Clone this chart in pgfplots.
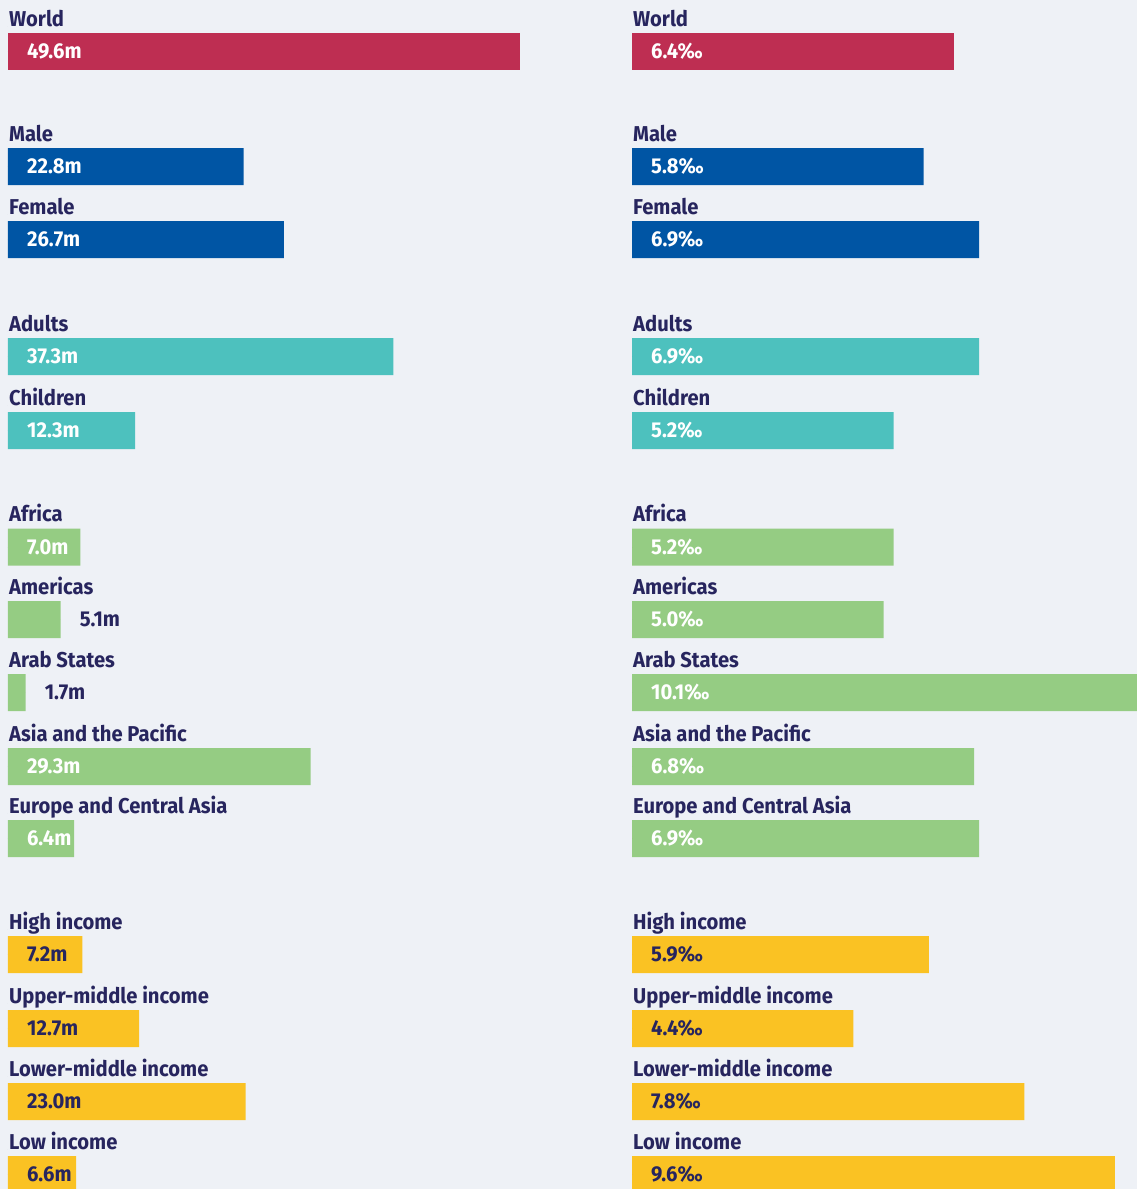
\documentclass[border=0pt]{standalone}
\usepackage{fontspec}
\setmainfont{Fira Sans}[FakeStretch=0.94]
\usepackage{pgfplots}
\usepackage{pgfplotstable}
\pgfplotsset{compat=1.18}

\definecolor{bg}{HTML}{EEF1F6}
\definecolor{navy}{HTML}{27255E}
\definecolor{crim}{HTML}{BE2E52}
\definecolor{blu}{HTML}{0055A4}
\definecolor{tealc}{HTML}{4DC1BE}
\definecolor{grn}{HTML}{95CC83}
\definecolor{yel}{HTML}{FAC223}

% y = bar centre (px from top); m = millions, r = per mille
% mx/rx = where the value label starts, mw/rw = 1 for white label text
\pgfplotstableread{
y name m mx mt mw r rx rt rw
51.5 World 49.6 0 49.6m 1 6.4 0 6.4‰ 1
}\world
\pgfplotstableread{
y name m mx mt mw r rx rt rw
166.5 Male 22.8 0 22.8m 1 5.8 0 5.8‰ 1
239.5 Female 26.7 0 26.7m 1 6.9 0 6.9‰ 1
}\sex
\pgfplotstableread{
y name m mx mt mw r rx rt rw
356.5 Adults 37.3 0 37.3m 1 6.9 0 6.9‰ 1
430.5 Children 12.3 0 12.3m 1 5.2 0 5.2‰ 1
}\age
\pgfplotstableread{
y name m mx mt mw r rx rt rw
547 Africa 7.0 0 7.0m 1 5.2 0 5.2‰ 1
619.5 Americas 5.1 5.1 5.1m 0 5.0 0 5.0‰ 1
692.5 {Arab States} 1.7 1.7 1.7m 0 10.1 0 10.1‰ 1
766.5 {Asia and the Pacific} 29.3 0 29.3m 1 6.8 0 6.8‰ 1
838.5 {Europe and Central Asia} 6.4 0 6.4m 1 6.9 0 6.9‰ 1
}\region
\pgfplotstableread{
y name m mx mt mw r rx rt rw
954.5 {High income} 7.2 0 7.2m 0 5.9 0 5.9‰ 0
1028.5 {Upper-middle income} 12.7 0 12.7m 0 4.4 0 4.4‰ 0
1101.5 {Lower-middle income} 23.0 0 23.0m 0 7.8 0 7.8‰ 0
1174.5 {Low income} 6.6 0 6.6m 0 9.6 0 9.6‰ 0
}\income

\pgfplotsset{
  lab/.style={only marks, mark=*, mark size=0pt,
    mark options={draw=none, fill=none},
    nodes near coords, point meta=explicit symbolic,
    nodes near coords style={font=\fontsize{21.5}{24}\selectfont\bfseries,
      inner sep=0pt}},
  panel/.style={anchor=north west, scale only axis, y=1pt, y dir=reverse,
    ymin=0, ymax=1189, hide axis, clip=true},
}

% #1 table, #2 fill, #3 column prefix (m or r)
\newcommand\grp[3]{%
  \addplot[xbar, bar shift=0pt, bar width=37, fill=#2, draw=none]
    table[x=#3, y=y] {#1};
  \addplot[lab, nodes near coords style={anchor=base west, xshift=1pt, text=navy}]
    table[x expr=0, y expr=\thisrow{y}-25.5, meta=name] {#1};
  \addplot[lab, restrict expr to domain={\thisrow{#3w}}{0.5:1.5},
    nodes near coords style={anchor=west, xshift=19pt, text=white}]
    table[x=#3x, y=y, meta=#3t] {#1};
  \addplot[lab, restrict expr to domain={\thisrow{#3w}}{-0.5:0.5},
    nodes near coords style={anchor=west, xshift=19pt, text=navy}]
    table[x=#3x, y=y, meta=#3t] {#1};
}

\begin{document}
\begin{tikzpicture}
\fill[bg] (0pt,0pt) rectangle (1137pt,-1189pt);

\begin{axis}[panel, at={(0pt,0pt)}, x=10.33pt, xmin=-0.774, xmax=59.2]
\grp{\world}{crim}{m}
\grp{\sex}{blu}{m}
\grp{\age}{tealc}{m}
\grp{\region}{grn}{m}
\grp{\income}{yel}{m}
\end{axis}

\begin{axis}[panel, at={(624pt,0pt)}, x=50.3pt, xmin=-0.159, xmax=10.04]
\grp{\world}{crim}{r}
\grp{\sex}{blu}{r}
\grp{\age}{tealc}{r}
\grp{\region}{grn}{r}
\grp{\income}{yel}{r}
\end{axis}

\pgfresetboundingbox
\useasboundingbox (0pt,0pt) rectangle (1137pt,-1189pt);
\end{tikzpicture}
\end{document}
